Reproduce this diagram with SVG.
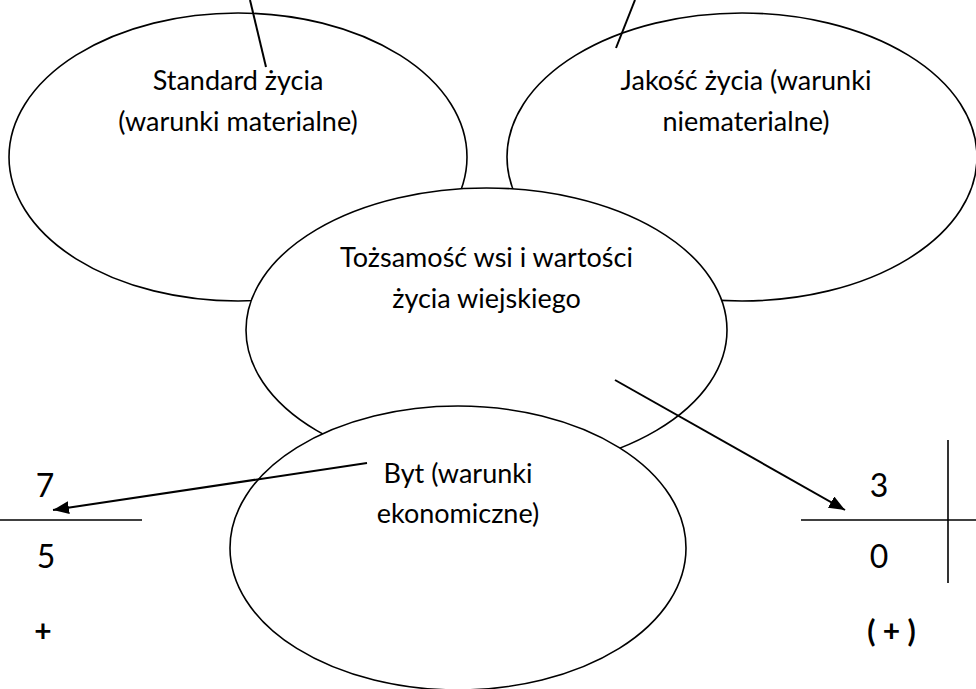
<svg xmlns="http://www.w3.org/2000/svg" width="976" height="689" viewBox="0 0 976 689">
<style>
.node ellipse{fill:#fff;stroke:#000;stroke-width:1.6}
text{font-family:Lato,"Liberation Sans",sans-serif;font-size:27px;fill:#000;text-anchor:middle}
.d{font-size:32px}
.b{font-weight:bold;font-size:30px}
.conn line{stroke:#000;stroke-width:2}
.rule{stroke:#000;stroke-width:1.6}
</style>
<defs>
<marker id="ah" markerUnits="userSpaceOnUse" markerWidth="18" markerHeight="14" refX="16" refY="6.5" orient="auto">
<path d="M0,0 L16,6.5 L0,13 z" fill="#000"/>
</marker>
</defs>
<g id="standard" class="node">
<ellipse cx="238" cy="157" rx="229" ry="144"/>
<text x="238" y="90">Standard życia</text>
<text x="238" y="131">(warunki materialne)</text>
</g>
<g id="jakosc" class="node">
<ellipse cx="742" cy="157" rx="235" ry="144"/>
<text x="746" y="90">Jakość życia (warunki</text>
<text x="746" y="131">niematerialne)</text>
</g>
<g id="tozsamosc" class="node">
<ellipse cx="486.5" cy="330" rx="240.5" ry="142"/>
<text x="486.5" y="267">Tożsamość wsi i wartości</text>
<text x="486.5" y="308">życia wiejskiego</text>
</g>
<g id="byt" class="node">
<ellipse cx="458" cy="548" rx="228" ry="142"/>
<text x="458" y="483">Byt (warunki</text>
<text x="458" y="523">ekonomiczne)</text>
</g>
<g id="left-score">
<line class="rule" x1="0" y1="520" x2="142" y2="520"/>
<text class="d" x="45" y="497">7</text>
<text class="d" x="46" y="568">5</text>
<text class="b" x="43" y="642">+</text>
</g>
<g id="right-score">
<line class="rule" x1="801" y1="520" x2="976" y2="520"/>
<line class="rule" x1="948" y1="440" x2="948" y2="583"/>
<text class="d" x="879" y="497">3</text>
<text class="d" x="879" y="568">0</text>
<text class="b" x="891.5" y="642">( + )</text>
</g>
<g id="connectors" class="conn">
<line x1="250" y1="0" x2="266" y2="67"/>
<line x1="635" y1="0" x2="616" y2="48"/>
<line x1="367" y1="463" x2="53" y2="510" marker-end="url(#ah)"/>
<line x1="615" y1="380" x2="845" y2="510" marker-end="url(#ah)"/>
</g>
</svg>
